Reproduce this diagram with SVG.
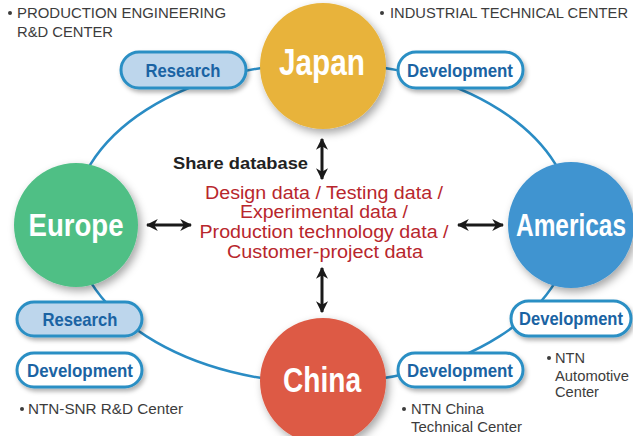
<svg xmlns="http://www.w3.org/2000/svg" width="633" height="436" viewBox="0 0 633 436">
<defs>
<filter id="sh" x="-30%" y="-30%" width="160%" height="160%">
<feDropShadow dx="3" dy="4" stdDeviation="4" flood-color="#000" flood-opacity="0.35"/>
</filter>
<filter id="psh" x="-20%" y="-40%" width="140%" height="180%">
<feDropShadow dx="2" dy="3" stdDeviation="2" flood-color="#000" flood-opacity="0.3"/>
</filter>
<marker id="ah" viewBox="0 0 10 10" refX="9" refY="5" markerWidth="4" markerHeight="4" orient="auto-start-reverse" markerUnits="strokeWidth">
<path d="M0,0 L10,5 L0,10 L3,5 Z" fill="#1a1a1a"/>
</marker>
<style>
.pill{stroke:#2c8fc4;stroke-width:3}
.pr{fill:#bdd6ec}
.pd{fill:#ffffff}
.pt{font-family:"Liberation Sans",Arial,sans-serif;font-weight:bold;font-size:19px;fill:#1a63a3;text-anchor:middle}
.big{font-family:"Liberation Sans",Arial,sans-serif;font-weight:bold;fill:#ffffff;text-anchor:middle}
.sm{font-family:"Liberation Sans",Arial,sans-serif;font-size:14px;fill:#3c3c3c}
.red{font-family:"Liberation Sans",Arial,sans-serif;font-size:17.5px;fill:#b8262c;text-anchor:middle}
.arr{stroke:#1a1a1a;stroke-width:3;fill:none;marker-start:url(#ah);marker-end:url(#ah)}
</style>
</defs>
<rect width="633" height="436" fill="#ffffff"/>
<g id="connectors">
<ellipse cx="323" cy="223" rx="250" ry="160" fill="none" stroke="#2a8cc4" stroke-width="2.5"/>
<line class="arr" x1="322" y1="139" x2="322" y2="179"/>
<line class="arr" x1="322" y1="268" x2="322" y2="312"/>
<line class="arr" x1="147" y1="225" x2="191" y2="225"/>
<line class="arr" x1="458" y1="225" x2="503" y2="225"/>
</g>
<g id="japan">
<circle cx="323" cy="66" r="63" fill="#e8b33a" filter="url(#sh)"/>
<text class="big" x="322" y="75" font-size="37" textLength="86" lengthAdjust="spacingAndGlyphs">Japan</text>
</g>
<g id="europe">
<circle cx="76" cy="225" r="62" fill="#4fbf85" filter="url(#sh)"/>
<text class="big" x="76" y="236" font-size="32" textLength="95" lengthAdjust="spacingAndGlyphs">Europe</text>
</g>
<g id="americas">
<circle cx="571" cy="225" r="63" fill="#3f94d0" filter="url(#sh)"/>
<text class="big" x="571" y="236" font-size="32" textLength="110" lengthAdjust="spacingAndGlyphs">Americas</text>
</g>
<g id="china">
<circle cx="323" cy="381" r="63" fill="#dd5a44" filter="url(#sh)"/>
<text class="big" x="322" y="392" font-size="35" textLength="78" lengthAdjust="spacingAndGlyphs">China</text>
</g>
<g id="research-japan">
<rect class="pill pr" x="121" y="52" width="125" height="36" rx="18" filter="url(#psh)"/>
<text class="pt" x="183" y="77" textLength="75" lengthAdjust="spacingAndGlyphs">Research</text>
</g>
<g id="development-japan">
<rect class="pill pd" x="398" y="52" width="125" height="36" rx="18" filter="url(#psh)"/>
<text class="pt" x="460" y="77" textLength="106" lengthAdjust="spacingAndGlyphs">Development</text>
</g>
<g id="research-europe">
<rect class="pill pr" x="17" y="302" width="125" height="34" rx="17" filter="url(#psh)"/>
<text class="pt" x="80" y="326" textLength="75" lengthAdjust="spacingAndGlyphs">Research</text>
</g>
<g id="development-europe">
<rect class="pill pd" x="17" y="353" width="125" height="34" rx="17" filter="url(#psh)"/>
<text class="pt" x="80" y="377" textLength="106" lengthAdjust="spacingAndGlyphs">Development</text>
</g>
<g id="development-china">
<rect class="pill pd" x="398" y="353" width="125" height="34" rx="17" filter="url(#psh)"/>
<text class="pt" x="460" y="377" textLength="106" lengthAdjust="spacingAndGlyphs">Development</text>
</g>
<g id="development-americas">
<rect class="pill pd" x="511" y="301" width="120" height="35" rx="17.5" filter="url(#psh)"/>
<text class="pt" x="571" y="325" textLength="104" lengthAdjust="spacingAndGlyphs">Development</text>
</g>
<g id="database">
<text x="173" y="169" font-family="Liberation Sans,Arial,sans-serif" font-weight="bold" font-size="17" fill="#222222" textLength="135" lengthAdjust="spacingAndGlyphs">Share database</text>
<text class="red" x="324" y="199" textLength="238" lengthAdjust="spacingAndGlyphs">Design data / Testing data /</text>
<text class="red" x="324" y="218" textLength="168" lengthAdjust="spacingAndGlyphs">Experimental data /</text>
<text class="red" x="324" y="238" textLength="249" lengthAdjust="spacingAndGlyphs">Production technology data /</text>
<text class="red" x="325" y="258" textLength="196" lengthAdjust="spacingAndGlyphs">Customer-project data</text>
</g>
<g id="notes">
<circle cx="10" cy="13" r="2" fill="#3c3c3c"/>
<text class="sm" x="17" y="18" textLength="209" lengthAdjust="spacingAndGlyphs">PRODUCTION ENGINEERING</text>
<text class="sm" x="17" y="37" textLength="96" lengthAdjust="spacingAndGlyphs">R&amp;D CENTER</text>
<circle cx="382" cy="13" r="2" fill="#3c3c3c"/>
<text class="sm" x="390" y="18" textLength="238" lengthAdjust="spacingAndGlyphs">INDUSTRIAL TECHNICAL CENTER</text>
<circle cx="22" cy="409" r="2" fill="#3c3c3c"/>
<text class="sm" x="28" y="414" textLength="155" lengthAdjust="spacingAndGlyphs">NTN-SNR R&amp;D Center</text>
<circle cx="404" cy="409" r="2" fill="#3c3c3c"/>
<text class="sm" x="411" y="414" textLength="73" lengthAdjust="spacingAndGlyphs">NTN China</text>
<text class="sm" x="411" y="432" textLength="111" lengthAdjust="spacingAndGlyphs">Technical Center</text>
<circle cx="549" cy="358" r="2" fill="#3c3c3c"/>
<text class="sm" x="555" y="363" textLength="30" lengthAdjust="spacingAndGlyphs">NTN</text>
<text class="sm" x="555" y="381" textLength="74" lengthAdjust="spacingAndGlyphs">Automotive</text>
<text class="sm" x="555" y="397" textLength="44" lengthAdjust="spacingAndGlyphs">Center</text>
</g>
</svg>
